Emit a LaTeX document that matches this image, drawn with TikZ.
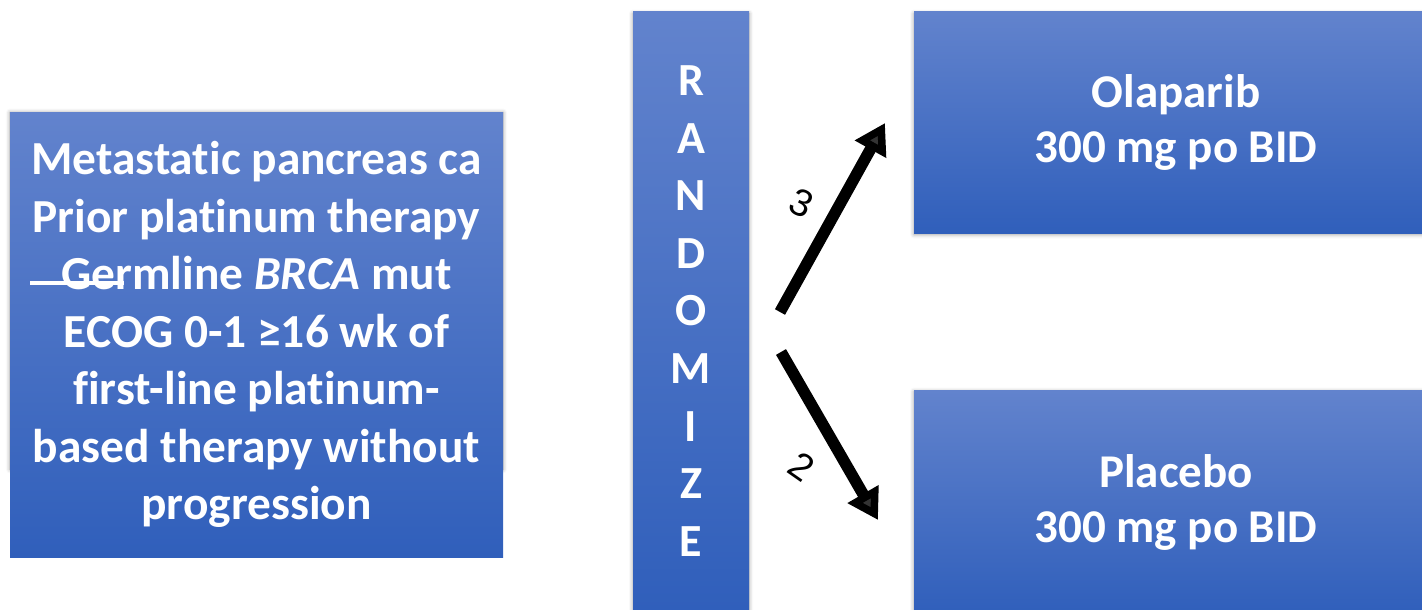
\documentclass[tikz,border=0pt]{standalone}
\usepackage{fontspec}
\setmainfont{Carlito}[Ligatures={NoCommon}]
\newfontfamily\handfont{Liberation Sans}
\usetikzlibrary{arrows.meta,shadows.blur}

\definecolor{boxtop}{RGB}{98,131,205}
\definecolor{boxmid}{RGB}{68,114,196}
\definecolor{boxbot}{RGB}{48,95,187}

\tikzset{
  panel/.style={rectangle, inner sep=0pt, top color=boxtop, middle color=boxmid,
    bottom color=boxbot, text=white, align=center},
  softshadow/.style={blur shadow={shadow xshift=0pt, shadow yshift=-1.5pt,
    shadow blur radius=4pt, shadow opacity=40}},
  bigtext/.style={font=\bfseries\fontsize{47.4}{57.5}\selectfont},
  armtext/.style={font=\bfseries\fontsize{47}{55}\selectfont},
  fatarrow/.style={line width=11.5pt, -{Triangle[length=30pt,width=34pt]}},
  ratio/.style={font=\handfont\fontsize{38}{38}\selectfont},
}

\begin{document}
\begin{tikzpicture}[x=1pt,y=-1pt]
\useasboundingbox (0,0) rectangle (1422,610);

% eligibility box (its shadow stops short of the box bottom)
\path[softshadow] (10,111) rectangle (503,468);
\node[panel, bigtext, minimum width=493pt, minimum height=445pt] (crit) at (256.5,334.5)
  {Metastatic pancreas ca\\Prior platinum therapy\\Germline \textit{BRCA} mut\\ECOG 0-1 ≥16 wk of\\first-line platinum-\\based therapy without\\progression};
\coordinate (strikeL) at (30,283);
\coordinate (strikeR) at (124,283);
\draw[white, line width=3.5pt] (strikeL) -- (strikeR);

% randomisation bar
\node[panel, softshadow, font=\bfseries\fontsize{46}{57.6}\selectfont,
  minimum width=116pt, minimum height=598pt] (rand) at (691,311)
  {R\\A\\N\\D\\O\\M\\I\\Z\\E};

% treatment arms
\node[panel, softshadow, armtext, minimum width=524pt, minimum height=221pt] (ola) at (1176,122.5)
  {Olaparib\\300 mg po BID};
\node[panel, softshadow, armtext, minimum width=524pt, minimum height=224pt] (pla) at (1176,502)
  {Placebo\\300 mg po BID};

% allocation arrows
\coordinate (upTail) at (780,312);
\coordinate (upTip) at (885,123);
\coordinate (dnTail) at (781,352);
\coordinate (dnTip) at (878,520);
\draw[fatarrow] (upTail) -- (upTip);
\draw[fatarrow] (dnTail) -- (dnTip);

\node[ratio, rotate=-25] (ratioA) at (802,203) {3};
\node[ratio, rotate=-35] (ratioB) at (802,467) {2};
\end{tikzpicture}
\end{document}
